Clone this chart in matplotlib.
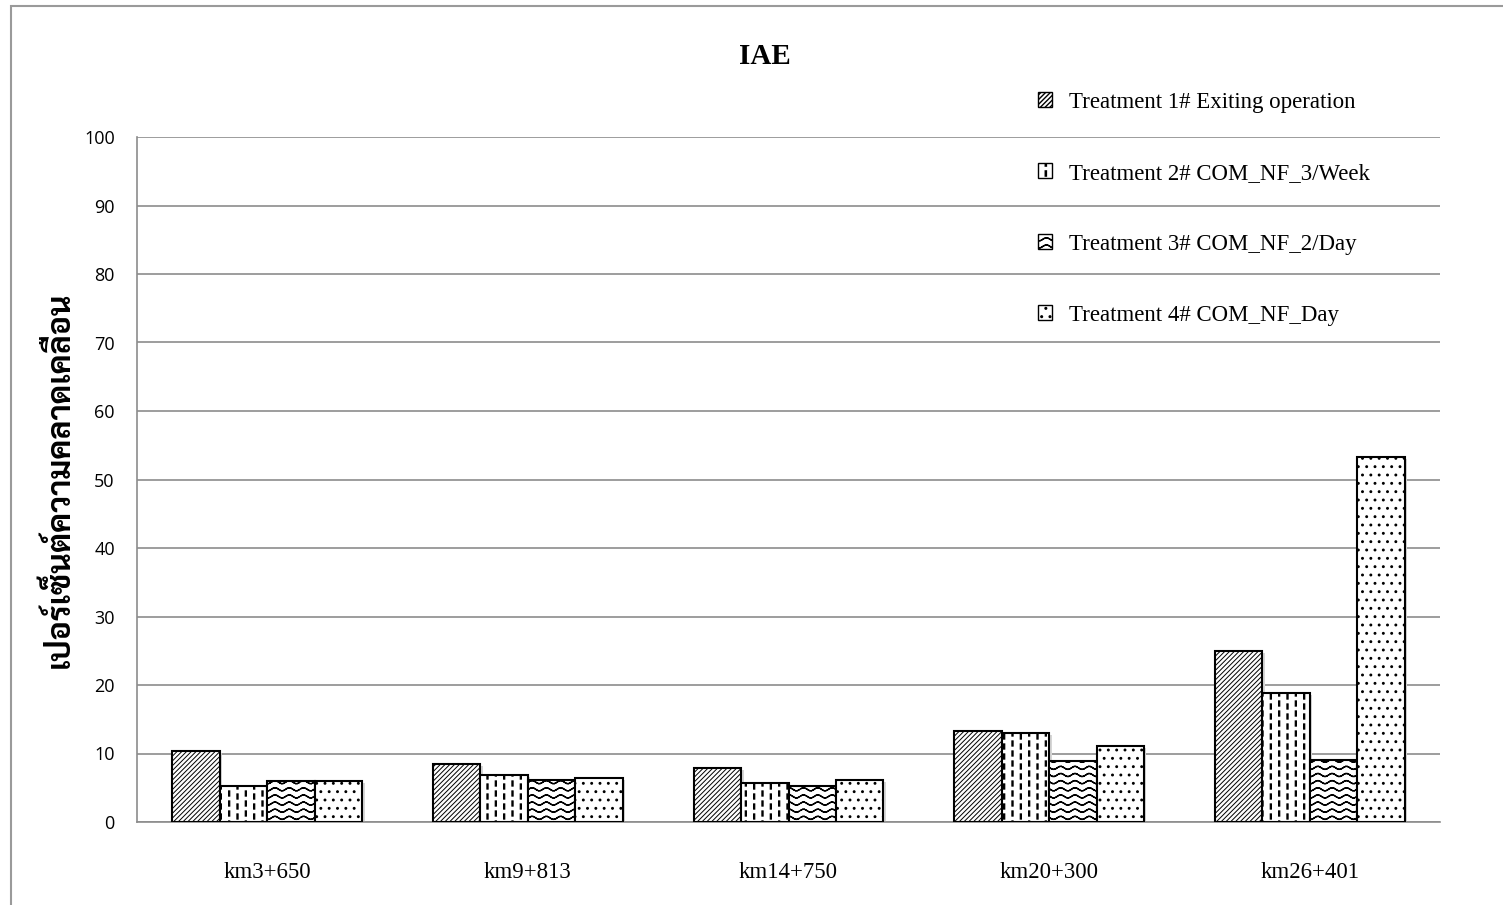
import warnings
import numpy as np
import matplotlib
matplotlib.use("Agg")
import matplotlib.pyplot as plt
from matplotlib import hatch as mhatch
from matplotlib.path import Path
from matplotlib.patches import Rectangle
from matplotlib.transforms import offset_copy

warnings.filterwarnings("ignore")

sites = ["km3+650", "km9+813", "km14+750", "km20+300", "km26+401"]
labels = ["Treatment 1# Exiting operation",
          "Treatment 2# COM_NF_3/Week",
          "Treatment 3# COM_NF_2/Day",
          "Treatment 4# COM_NF_Day"]
t1 = [10.4, 8.5, 7.9, 13.3, 24.9]
t2 = [5.3, 6.8, 5.7, 13.0, 18.8]
t3 = [6.0, 6.1, 5.3, 8.9, 9.1]
t4 = [6.0, 6.4, 6.1, 11.1, 53.3]
series = [t1, t2, t3, t4]
hatches = ["///////", "i", "w", ".."]
hatch_lw = [0.7, 0.8, 1.0, 0.9]


# extra hatch styles: short vertical dashes ('i') and wavy lines ('w')
class DashHatch(mhatch.HatchPatternBase):
    def __init__(self, hatch, density):
        n = hatch.count("i")
        self.cols = 12 * n
        self.rows = 10 * n
        self.num_vertices = self.cols * self.rows * 5

    def set_vertices_and_codes(self, vertices, codes):
        w, h = 0.006, 0.026
        k = 0
        for i in range(self.cols):
            x = (i + 0.5) / self.cols
            shift = 0.015 if i % 2 else -0.015
            for j in range(self.rows):
                y = (j + 0.5) / self.rows + shift
                vertices[k:k + 5] = [(x - w, y - h), (x + w, y - h),
                                     (x + w, y + h), (x - w, y + h),
                                     (x - w, y - h)]
                codes[k:k + 5] = [Path.MOVETO, Path.LINETO, Path.LINETO,
                                  Path.LINETO, Path.CLOSEPOLY]
                k += 5


class WaveHatch(mhatch.HatchPatternBase):
    def __init__(self, hatch, density):
        n = hatch.count("w")
        self.rows = 14 * n
        self.periods = 7 * n
        self.steps = self.periods * 10
        self.num_vertices = self.rows * self.steps * 2

    def set_vertices_and_codes(self, vertices, codes):
        xs = np.linspace(0, 1, self.steps + 1)
        amp = 0.015
        k = 0
        for j in range(self.rows):
            yc = (j + 0.5) / self.rows
            ys = yc + amp * np.sin(2 * np.pi * self.periods * xs)
            for s in range(self.steps):
                vertices[k] = (xs[s], ys[s])
                vertices[k + 1] = (xs[s + 1], ys[s + 1])
                codes[k] = Path.MOVETO
                codes[k + 1] = Path.LINETO
                k += 2


if DashHatch not in mhatch._hatch_types:
    mhatch._hatch_types.extend([DashHatch, WaveHatch])

plt.rcParams["hatch.color"] = "black"

fig = plt.figure(figsize=(15.03, 9.05), dpi=100)
ax = fig.add_axes([137 / 1503, 1 - 822 / 905, (1440 - 137) / 1503, (822 - 137) / 905])

x = np.arange(len(sites))
bw = 0.182
shadow = offset_copy(ax.transData, fig=fig, x=2.5, y=-2.0, units="dots")
for k, (vals, hp, lab, hlw) in enumerate(zip(series, hatches, labels, hatch_lw)):
    pos = x + (k - 1.5) * bw
    # soft drop shadow behind each bar
    ax.bar(pos, vals, bw, color="#d6d6d6", linewidth=0, zorder=2,
           transform=shadow)
    with plt.rc_context({"hatch.linewidth": hlw}):
        bars = ax.bar(pos, vals, bw, facecolor="white", edgecolor="black",
                      linewidth=1.5, hatch=hp, label=lab, zorder=3)
    for b in bars:
        if hasattr(b, "set_hatch_linewidth"):
            b.set_hatch_linewidth(hlw)

ax.set_xlim(-0.5, len(sites) - 0.5)
ax.set_ylim(0, 100)
ax.set_yticks(np.arange(0, 101, 10))
ax.set_xticks(x)
ax.set_xticklabels(sites, family="Liberation Serif", fontsize=16.5)
ax.tick_params(axis="x", length=0, pad=29)
ax.tick_params(axis="y", length=0, pad=16, labelsize=13)
for t in ax.get_yticklabels():
    t.set_family("Open Sans")
ax.grid(axis="y", color="#8c8c8c", linewidth=1.2, zorder=0)
for side in ["top", "right"]:
    ax.spines[side].set_visible(False)
for side in ["left", "bottom"]:
    ax.spines[side].set_color("#8c8c8c")
    ax.spines[side].set_linewidth(1.2)

ax.set_ylabel("เปอร์เซ็นต์ความคลาดเคลื่อน",
              family=["Sarabun", "DejaVu Sans"], fontweight="bold", fontsize=23)
ax.yaxis.set_label_coords(-0.047, 0.5)

fig.text(765 / 1503, 1 - 57 / 905, "IAE", ha="center", va="center",
         family="Liberation Serif", fontweight="bold", fontsize=21)

leg = ax.legend(loc="upper left", bbox_to_anchor=(1017 / 1503, 1 - 71 / 905),
                bbox_transform=fig.transFigure, frameon=False,
                prop={"family": "Liberation Serif", "size": 16.5},
                handlelength=0.62, handleheight=0.62, handletextpad=0.75,
                labelspacing=2.18)
for h in leg.legend_handles:
    h.set_linewidth(1.0)

# outer chart frame
fig.patches.append(Rectangle((11 / 1503, -0.1), 2, 1.1 - 6 / 905,
                             transform=fig.transFigure, fill=False,
                             edgecolor="#9a9a9a", linewidth=1.5))

fig.savefig("out.png", dpi=100)
